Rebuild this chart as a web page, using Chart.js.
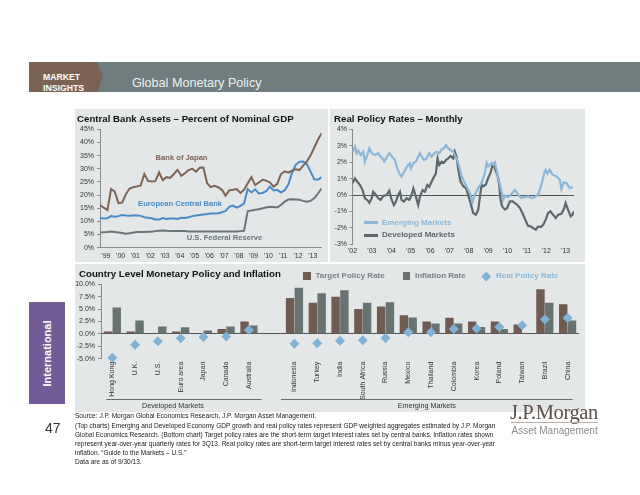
<!DOCTYPE html>
<html><head><meta charset="utf-8">
<script src="https://cdn.jsdelivr.net/npm/chart.js@4.4.1/dist/chart.umd.min.js"></script>
<style>
html,body{margin:0;padding:0;background:#fff;}
body{width:640px;height:495px;position:relative;overflow:hidden;font-family:"Liberation Sans",Arial,sans-serif;}
.abs{position:absolute;white-space:nowrap;line-height:1;}
.panel{position:absolute;background:#e4e7e8;}
.ttl{position:absolute;font-weight:bold;font-size:9.7px;line-height:1;color:#111;white-space:nowrap;}
canvas{position:absolute;}
.lg{position:absolute;font-weight:bold;font-size:8px;line-height:1;white-space:nowrap;}
.fn{position:absolute;left:75px;font-size:6.55px;line-height:9.2px;color:#222;white-space:nowrap;}
</style></head>
<body>
<!-- header -->
<div class="abs" style="left:29px;top:62px;width:611px;height:30px;background:#6f7d7e"></div>
<div class="abs" style="left:29px;top:62px;width:74px;height:30px;background:#7b6354;clip-path:polygon(0 0,68px 0,74px 50%,68px 100%,0 100%);overflow:hidden">
  <div class="abs" style="left:14px;top:11.2px;font-weight:bold;font-size:8.7px;color:#fff;">MARKET</div>
  <div class="abs" style="left:14px;top:22.3px;font-weight:bold;font-size:8.7px;color:#fff;">INSIGHTS</div>
</div>
<div class="abs" style="left:132px;top:77.3px;font-size:12.6px;color:#eef1f1;">Global Monetary Policy</div>

<!-- sidebar -->
<div class="abs" style="left:29px;top:302px;width:36px;height:102px;background:#735c96"></div>
<div class="abs" style="left:47px;top:353px;width:0;height:0;">
  <div class="abs" style="left:-40px;top:-5.5px;width:80px;text-align:center;transform:rotate(-90deg);font-weight:bold;font-size:11px;color:#fff;">International</div>
</div>

<!-- panels -->
<div class="panel" style="left:75px;top:109px;width:253px;height:153px"></div>
<div class="panel" style="left:330px;top:109px;width:255px;height:153px"></div>
<div class="panel" style="left:75px;top:264px;width:510px;height:148px"></div>

<canvas id="c1" width="253" height="153" style="left:75px;top:109px"></canvas>
<canvas id="c2" width="255" height="153" style="left:330px;top:109px"></canvas>
<canvas id="c3" width="510" height="148" style="left:75px;top:264px"></canvas>

<div class="ttl" style="left:77px;top:114.1px">Central Bank Assets – Percent of Nominal GDP</div>
<div class="ttl" style="left:334px;top:113.5px">Real Policy Rates – Monthly</div>
<div class="ttl" style="left:79px;top:268.5px">Country Level Monetary Policy and Inflation</div>

<!-- legend top-right -->
<div class="abs" style="left:364px;top:221.2px;width:14px;height:3px;background:#8cb7d9"></div>
<div class="lg" style="left:382px;top:218.9px;color:#8cb7d9">Emerging Markets</div>
<div class="abs" style="left:364px;top:233.5px;width:14px;height:3px;background:#5d6868"></div>
<div class="lg" style="left:382px;top:231.2px;color:#5d6868">Developed Markets</div>

<!-- legend bottom -->
<div class="abs" style="left:303px;top:272.3px;width:7.5px;height:7.5px;background:#6f5b51"></div>
<div class="lg" style="left:315.5px;top:272.2px;color:#7a7e80">Target Policy Rate</div>
<div class="abs" style="left:402.7px;top:272.3px;width:7.5px;height:7.5px;background:#677271"></div>
<div class="lg" style="left:415px;top:272.2px;color:#7a7e80">Inflation Rate</div>
<div class="abs" style="left:483px;top:272.8px;width:6.5px;height:6.5px;background:#80b2d6;transform:rotate(45deg)"></div>
<div class="lg" style="left:496px;top:272.2px;color:#8cb7d9">Real Policy Rate</div>

<!-- footnotes -->
<div class="fn" style="top:411.4px">Source: J.P. Morgan Global Economics Research, J.P. Morgan Asset Management.</div>
<div class="fn" style="top:420.6px">(Top charts) Emerging and Developed Economy GDP growth and real policy rates represent GDP weighted aggregates estimated by J.P. Morgan</div>
<div class="fn" style="top:429.8px">Global Economics Research. (Bottom chart) Target policy rates are the short-term target interest rates set by central banks. Inflation rates shown</div>
<div class="fn" style="top:439px">represent year-over-year quarterly rates for 3Q13. Real policy rates are short-term target interest rates set by central banks minus year-over-year</div>
<div class="fn" style="top:448.2px">inflation. “Guide to the Markets – U.S.”</div>
<div class="fn" style="top:457.4px">Data are as of 9/30/13.</div>
<div class="abs" style="left:45px;top:421px;font-size:14px;color:#333">47</div>

<!-- logo -->
<div class="abs" style="left:510px;top:401.5px;font-family:'Liberation Serif','Times New Roman',serif;font-size:20.5px;color:#5c5049;letter-spacing:-0.4px">J.P.Morgan</div>
<div class="abs" style="left:511px;top:422px;width:87px;height:1px;background:#b5b0ab"></div>
<div class="abs" style="left:511.5px;top:426.1px;font-size:10px;color:#8c8c8c">Asset Management</div>

<script>
// ---------- DATA ----------
// Central Bank Assets (% of nominal GDP), quarterly from Q1 1999
const assetsStartYear = 1999;
const assetYearLabels = ["'99","'00","'01","'02","'03","'04","'05","'06","'07","'08","'09","'10","'11","'12","'13"];
const bankOfJapan = [16.2,15.2,14.3,22.3,21.3,16.9,17.1,20.3,22.5,23.0,23.3,23.6,28.0,25.4,25.2,25.3,28.6,25.7,26.8,26.5,28.0,29.6,27.3,28.3,29.5,30.0,28.9,30.4,30.5,24.5,23.0,23.5,23.0,22.0,19.8,21.8,22.0,22.3,20.8,22.0,24.5,26.8,23.8,24.8,25.8,25.5,24.8,23.2,24.3,28.0,29.0,28.5,29.3,29.8,29.5,31.2,32.8,35.0,38.0,41.0,43.5];
const europeanCentralBank = [11.3,11.1,11.2,12.0,11.8,12.0,12.4,12.2,12.1,12.2,12.3,12.1,11.6,11.4,11.2,10.7,10.7,11.3,10.9,11.1,11.1,10.9,11.4,11.3,11.6,12.0,12.2,12.4,12.6,12.8,13.0,13.0,13.1,13.5,14.0,15.5,16.0,15.2,15.9,16.8,22.3,21.0,22.2,20.6,20.8,21.5,23.2,21.8,22.0,21.0,21.8,24.0,28.5,31.5,32.7,32.8,31.8,29.0,26.0,25.8,26.8];
const usFederalReserve = [5.8,5.9,6.0,6.2,6.0,5.8,5.6,5.3,5.5,5.8,6.0,6.0,6.0,6.1,6.1,6.3,6.4,6.5,6.4,6.3,6.3,6.3,6.3,6.3,6.2,6.2,6.2,6.2,6.2,6.2,6.2,6.2,6.2,6.2,6.2,6.2,6.2,6.2,6.3,6.4,13.9,14.1,14.4,14.6,15.0,15.3,15.6,15.5,15.3,16.2,17.5,18.3,18.4,18.3,18.2,17.8,17.5,17.8,18.8,20.5,22.6];

// Real policy rates (monthly)
const rateYearLabels = ["'02","'03","'04","'05","'06","'07","'08","'09","'10","'11","'12","'13"];
const emDates = [2002.00,2002.13,2002.21,2002.30,2002.42,2002.56,2002.64,2002.76,2002.87,2002.99,2003.16,2003.33,2003.42,2003.55,2003.64,2003.76,2003.90,2004.02,2004.19,2004.31,2004.41,2004.53,2004.62,2004.76,2004.88,2004.96,2005.02,2005.14,2005.27,2005.39,2005.48,2005.57,2005.69,2005.82,2005.96,2006.08,2006.22,2006.34,2006.48,2006.60,2006.72,2006.82,2006.94,2007.06,2007.20,2007.28,2007.40,2007.51,2007.63,2007.71,2007.88,2008.06,2008.19,2008.31,2008.49,2008.66,2008.83,2008.92,2009.00,2009.17,2009.26,2009.35,2009.43,2009.57,2009.69,2009.78,2009.86,2010.03,2010.21,2010.38,2010.55,2010.72,2010.89,2011.06,2011.23,2011.41,2011.58,2011.75,2011.89,2011.97,2012.06,2012.18,2012.32,2012.52,2012.70,2012.78,2012.90,2013.04,2013.21,2013.38];
const emValues = [2.64,2.95,2.54,2.70,2.43,2.64,2.03,2.43,2.84,2.54,2.43,2.54,2.37,2.23,2.03,2.29,2.54,2.37,2.13,1.62,1.32,1.12,1.32,1.62,1.83,1.93,1.62,1.93,2.03,2.33,2.54,2.33,2.13,2.23,2.54,2.33,2.54,2.64,2.54,2.78,2.84,3.04,2.84,2.74,2.64,2.43,2.13,1.72,1.12,0.95,0.53,0.12,-0.45,0.02,0.43,0.73,1.34,1.95,1.74,1.95,1.85,1.99,1.54,0.83,0.22,-0.28,-0.04,-0.12,0.08,0.32,0.02,-0.18,-0.12,-0.08,-0.18,-0.12,0.02,0.63,1.34,1.54,1.30,1.54,1.24,1.14,0.93,0.37,0.77,0.73,0.43,0.47];
const dmDates = [2002.00,2002.13,2002.25,2002.39,2002.52,2002.64,2002.76,2002.87,2002.99,2003.07,2003.21,2003.33,2003.45,2003.59,2003.76,2003.90,2004.02,2004.14,2004.24,2004.36,2004.45,2004.53,2004.65,2004.79,2004.93,2005.05,2005.14,2005.27,2005.39,2005.48,2005.62,2005.74,2005.86,2005.96,2006.08,2006.20,2006.30,2006.39,2006.48,2006.60,2006.72,2006.82,2006.94,2007.06,2007.20,2007.28,2007.37,2007.45,2007.57,2007.71,2007.85,2007.97,2008.09,2008.23,2008.37,2008.49,2008.57,2008.66,2008.74,2008.88,2009.00,2009.12,2009.23,2009.31,2009.40,2009.48,2009.57,2009.64,2009.72,2009.86,2009.98,2010.12,2010.26,2010.38,2010.50,2010.64,2010.81,2010.95,2011.06,2011.18,2011.32,2011.46,2011.58,2011.72,2011.84,2011.97,2012.09,2012.21,2012.35,2012.49,2012.61,2012.78,2012.90,2013.00,2013.12,2013.26,2013.35,2013.43];
const dmValues = [0.71,1.01,0.81,0.61,0.30,-0.20,-0.30,-0.47,-0.20,0.20,0.00,-0.20,-0.30,-0.06,0.00,0.26,-0.30,-0.61,-0.40,0.00,0.20,-0.30,-0.40,-0.20,-0.30,0.00,0.40,-0.10,-0.61,-0.10,0.30,0.20,0.61,0.50,0.81,1.10,1.30,2.23,1.83,2.03,1.97,2.13,2.23,2.37,2.23,2.64,2.33,1.60,0.85,0.53,0.43,0.02,-0.49,-1.10,-1.20,-0.89,-0.18,0.63,0.53,0.63,1.03,1.34,1.85,1.74,1.44,1.24,0.63,-0.28,-0.69,-0.89,-0.79,-0.39,-0.39,-0.49,-0.59,-0.79,-1.20,-1.60,-1.87,-1.91,-2.01,-2.11,-1.91,-1.95,-1.81,-1.50,-1.10,-0.99,-1.20,-1.40,-1.20,-1.14,-0.89,-0.49,-0.89,-1.30,-1.20,-0.99];

// Country level (bottom)
const countries = ["Hong Kong","U.K.","U.S.","Euro area","Japan","Canada","Australia","","Indonesia","Turkey","India","South Africa","Russia","Mexico","Thailand","Colombia","Korea","Poland","Taiwan","Brazil","China"];
const targetPolicyRate = [0.5,0.5,0.13,0.5,0.1,1.0,2.5,null,7.25,6.3,7.5,5.0,5.5,3.75,2.5,3.25,2.5,2.5,1.875,9.0,6.0];
const inflationRate = [5.3,2.7,1.5,1.35,0.7,1.5,1.7,null,9.3,8.2,8.8,6.3,6.4,3.3,2.1,2.1,1.4,1.0,0.15,6.3,2.7];
const realPolicyRate = [-4.8,-2.2,-1.5,-0.9,-0.6,-0.5,0.8,null,-2.0,-1.9,-1.4,-1.3,-0.85,0.35,0.35,1.0,1.1,1.4,1.75,2.9,3.2];
const countryTicks = [-5,-2.5,0,2.5,5,7.5,10];

// ---------- STYLE ----------
const C = {boj:'#7d6455', ecb:'#4a8bca', fed:'#6a7777', em:'#8cb7d9', dm:'#5d6868', target:'#6f5b51', infl:'#677271', real:'#80b2d6', axis:'#8a8a8a', zero:'#555', tick:'#333'};
Chart.defaults.font.family = '"Liberation Sans", Arial, sans-serif';
Chart.defaults.color = C.tick;
const tickFont = {size:7};

// Chart 1
const seriesLabels = [
  {text:'Bank of Japan', x:2004.52, y:34.1, color:C.boj},
  {text:'European Central Bank', x:2004.42, y:16.6, color:C.ecb},
  {text:'U.S. Federal Reserve', x:2007.43, y:3.7, color:C.fed}
];
const labelPlugin = {id:'seriesLabels', afterDatasetsDraw(chart){
  const {ctx, scales:{x,y}} = chart;
  ctx.save(); ctx.font = 'bold 7.6px "Liberation Sans", Arial'; ctx.textAlign='center'; ctx.textBaseline='middle';
  seriesLabels.forEach(l=>{ctx.fillStyle=l.color; ctx.fillText(l.text, x.getPixelForValue(l.x), y.getPixelForValue(l.y));});
  ctx.restore();
}};
const q = v => v.map((val,i)=>({x: assetsStartYear + i/4, y: val}));
new Chart(document.getElementById('c1'), {
  type:'line',
  data:{datasets:[
    {label:'Bank of Japan', data:q(bankOfJapan), borderColor:C.boj, borderWidth:2, pointRadius:0},
    {label:'European Central Bank', data:q(europeanCentralBank), borderColor:C.ecb, borderWidth:2, pointRadius:0},
    {label:'U.S. Federal Reserve', data:q(usFederalReserve), borderColor:C.fed, borderWidth:2, pointRadius:0}
  ]},
  options:{
    responsive:false, animation:false, devicePixelRatio:1,
    layout:{padding:{left:0, top:20.3, right:6.4, bottom:0}},
    plugins:{legend:{display:false}, tooltip:{enabled:false}},
    scales:{
      x:{type:'linear', min:1999, max:2014,
        afterBuildTicks:s=>{s.ticks = assetYearLabels.map((_,i)=>({value:assetsStartYear+i+0.4}));},
        ticks:{autoSkip:false, maxRotation:0, padding:4, font:tickFont, callback:(v,i)=>assetYearLabels[i]},
        grid:{display:false, drawTicks:false}, border:{display:true, color:C.axis},
        afterFit:s=>{s.height=14.3;}},
      y:{min:0, max:45, ticks:{stepSize:5, padding:3, font:tickFont, callback:v=>v+'%'},
        grid:{drawOnChartArea:false, tickLength:3, color:C.axis}, border:{color:C.axis},
        afterFit:s=>{s.width=25;}}
    }
  },
  plugins:[labelPlugin]
});

// Chart 2
const xy = (d,v) => d.map((x,i)=>({x, y:v[i]}));
new Chart(document.getElementById('c2'), {
  type:'line',
  data:{datasets:[
    {label:'Emerging Markets', data:xy(emDates,emValues), borderColor:C.em, borderWidth:2.2, pointRadius:0},
    {label:'Developed Markets', data:xy(dmDates,dmValues), borderColor:C.dm, borderWidth:2.2, pointRadius:0}
  ]},
  options:{
    responsive:false, animation:false, devicePixelRatio:1,
    layout:{padding:{left:0, top:20.3, right:11, bottom:0}},
    plugins:{legend:{display:false}, tooltip:{enabled:false}},
    scales:{
      x:{type:'linear', min:2002, max:2013.43,
        afterBuildTicks:s=>{s.ticks = rateYearLabels.map((_,i)=>({value:2002+i}));},
        ticks:{autoSkip:false, maxRotation:0, padding:3, font:tickFont, callback:(v,i)=>rateYearLabels[i]},
        grid:{display:false, drawTicks:false}, border:{display:false},
        afterFit:s=>{s.height=17.7;}},
      y:{min:-3, max:4, ticks:{stepSize:1, padding:2.5, font:tickFont, callback:v=>v+'%'},
        grid:{color:c=>(c.tick && c.tick.value===0)?C.zero:'rgba(0,0,0,0)', tickColor:C.axis, tickLength:3},
        border:{color:C.axis},
        afterFit:s=>{s.width=22.5;}}
    }
  }
});

// Chart 3
const groups = [
  {name:'Developed Markets', from:0, to:6, padL:-6, padR:12.5, textDx:-11},
  {name:'Emerging Markets', from:8, to:20, padL:-13.5, padR:5, textDx:0}
];
const groupPlugin = {id:'groups', afterDraw(chart){
  const {ctx, scales:{x}} = chart;
  const yl = chart.height - 12.7, yt = chart.height - 6;
  ctx.save();
  ctx.strokeStyle='#6b6b6b'; ctx.lineWidth=1;
  ctx.font='7.2px "Liberation Sans", Arial'; ctx.fillStyle='#333'; ctx.textAlign='center'; ctx.textBaseline='middle';
  groups.forEach(g=>{
    const x0 = x.getPixelForValue(g.from)+g.padL, x1 = x.getPixelForValue(g.to)+g.padR;
    ctx.beginPath(); ctx.moveTo(x0, Math.round(yl)+0.5); ctx.lineTo(x1, Math.round(yl)+0.5); ctx.stroke();
    ctx.fillText(g.name, (x0+x1)/2 + g.textDx, yt);
  });
  ctx.restore();
}};
new Chart(document.getElementById('c3'), {
  type:'bar',
  data:{labels:countries, datasets:[
    {type:'line', label:'Real Policy Rate', data:realPolicyRate, showLine:false, pointStyle:'rectRot', pointRadius:5, backgroundColor:C.real, borderColor:C.real, borderWidth:0, order:0, clip:false},
    {label:'Target Policy Rate', data:targetPolicyRate, backgroundColor:C.target, order:1, categoryPercentage:0.77, barPercentage:0.96},
    {label:'Inflation Rate', data:inflationRate, backgroundColor:C.infl, order:1, categoryPercentage:0.77, barPercentage:0.96}
  ]},
  options:{
    responsive:false, animation:false, devicePixelRatio:1,
    layout:{padding:{left:0, top:20.3, right:6, bottom:0}},
    plugins:{legend:{display:false}, tooltip:{enabled:false}},
    scales:{
      x:{ticks:{autoSkip:false, maxRotation:90, minRotation:90, padding:3, font:tickFont},
        grid:{display:false, drawTicks:false}, border:{display:false},
        afterFit:s=>{s.height=53.3;}},
      y:{min:-5, max:10,
        afterBuildTicks:s=>{s.ticks = countryTicks.map(v=>({value:v}));},
        ticks:{padding:3, font:tickFont, callback:v=>v.toFixed(1)+'%'},
        grid:{color:c=>(c.tick && c.tick.value===0)?C.zero:'rgba(0,0,0,0)', tickColor:C.axis, tickLength:3},
        border:{color:C.axis},
        afterFit:s=>{s.width=26;}}
    }
  },
  plugins:[groupPlugin]
});
</script>
</body></html>
